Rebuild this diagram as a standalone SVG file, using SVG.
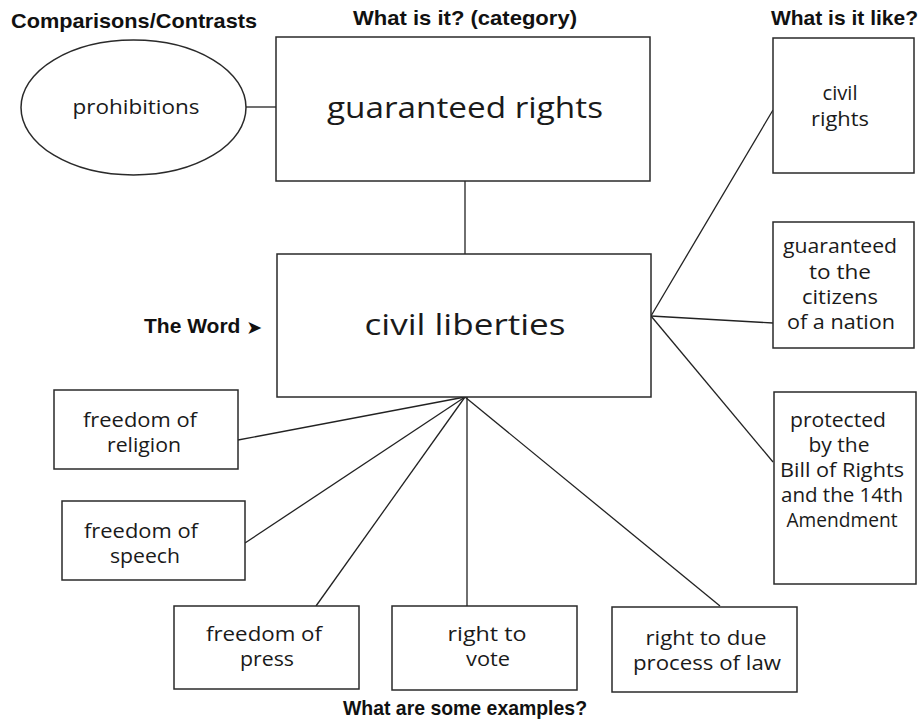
<svg xmlns="http://www.w3.org/2000/svg" width="923" height="723" viewBox="0 0 923 723">
<style>
.box{fill:#fff;stroke:#2a2a2a;stroke-width:1.5}
.hdr{font-family:"Liberation Sans",Arial,sans-serif;font-weight:bold;font-size:21px;fill:#111}
.lbl{font-family:"Open Sans","DejaVu Sans",sans-serif;font-size:20px;fill:#1a1a1a;text-anchor:middle}
.big{font-size:30px}
.conn{stroke:#222;stroke-width:1.3;fill:none}
</style>
<rect width="923" height="723" fill="#fff"/>
<g id="headers">
<text class="hdr" x="134" y="28" text-anchor="middle" textLength="246" lengthAdjust="spacingAndGlyphs">Comparisons/Contrasts</text>
<text class="hdr" x="465" y="25" text-anchor="middle" textLength="224" lengthAdjust="spacingAndGlyphs">What is it? (category)</text>
<text class="hdr" x="918" y="25" text-anchor="end">What is it like?</text>
<text class="hdr" x="465" y="715" text-anchor="middle" textLength="244" lengthAdjust="spacingAndGlyphs">What are some examples?</text>
<text class="hdr" x="144" y="333">The Word <tspan font-family="DejaVu Sans,sans-serif" font-size="19" font-weight="normal" dy="1">➤</tspan></text>
</g>
<g id="connectors">
<path class="conn" d="M246,107 H276"/>
<path class="conn" d="M465,181 V254"/>
<path class="conn" d="M651,316 L773,110"/>
<path class="conn" d="M651,316 L773,323"/>
<path class="conn" d="M651,316 L773,462"/>
<path class="conn" d="M465,397 L238,440"/>
<path class="conn" d="M465,397 L245,543"/>
<path class="conn" d="M465,397 L316,606"/>
<path class="conn" d="M467,397 V606"/>
<path class="conn" d="M465,397 L720,606"/>
</g>
<g id="n-prohibitions">
<ellipse class="box" cx="133.5" cy="107.5" rx="112.5" ry="67.5"/>
<text class="lbl" x="136" y="114" textLength="127" lengthAdjust="spacingAndGlyphs">prohibitions</text>
</g>
<g id="n-guaranteed-rights">
<rect class="box" x="276" y="37" width="374" height="144"/>
<text class="lbl big" x="465" y="118" textLength="276" lengthAdjust="spacingAndGlyphs">guaranteed rights</text>
</g>
<g id="n-civil-liberties">
<rect class="box" x="277" y="254" width="374" height="143"/>
<text class="lbl big" x="465" y="335" textLength="201" lengthAdjust="spacingAndGlyphs">civil liberties</text>
</g>
<g id="n-civil-rights">
<rect class="box" x="773" y="38" width="141" height="135"/>
<text class="lbl" x="840" y="100" textLength="35" lengthAdjust="spacingAndGlyphs">civil</text>
<text class="lbl" x="840" y="126" textLength="58" lengthAdjust="spacingAndGlyphs">rights</text>
</g>
<g id="n-citizens">
<rect class="box" x="773" y="222" width="141" height="126"/>
<text class="lbl" x="840" y="253" textLength="114" lengthAdjust="spacingAndGlyphs">guaranteed</text>
<text class="lbl" x="840" y="279" textLength="62" lengthAdjust="spacingAndGlyphs">to the</text>
<text class="lbl" x="840" y="304" textLength="76" lengthAdjust="spacingAndGlyphs">citizens</text>
<text class="lbl" x="841" y="329" textLength="108" lengthAdjust="spacingAndGlyphs">of a nation</text>
</g>
<g id="n-protected">
<rect class="box" x="774" y="392" width="142" height="192"/>
<text class="lbl" x="838" y="427" textLength="96" lengthAdjust="spacingAndGlyphs">protected</text>
<text class="lbl" x="839" y="452" textLength="61" lengthAdjust="spacingAndGlyphs">by the</text>
<text class="lbl" x="842" y="477" textLength="124" lengthAdjust="spacingAndGlyphs">Bill of Rights</text>
<text class="lbl" x="842" y="502" textLength="122" lengthAdjust="spacingAndGlyphs">and the 14th</text>
<text class="lbl" x="842" y="527" textLength="111" lengthAdjust="spacingAndGlyphs">Amendment</text>
</g>
<g id="n-religion">
<rect class="box" x="54" y="390" width="184" height="79"/>
<text class="lbl" x="140" y="427" textLength="114" lengthAdjust="spacingAndGlyphs">freedom of</text>
<text class="lbl" x="144" y="452" textLength="74" lengthAdjust="spacingAndGlyphs">religion</text>
</g>
<g id="n-speech">
<rect class="box" x="62" y="501" width="183" height="79"/>
<text class="lbl" x="141" y="538" textLength="114" lengthAdjust="spacingAndGlyphs">freedom of</text>
<text class="lbl" x="145" y="563" textLength="70" lengthAdjust="spacingAndGlyphs">speech</text>
</g>
<g id="n-press">
<rect class="box" x="174" y="606" width="185" height="83"/>
<text class="lbl" x="264" y="641" textLength="116" lengthAdjust="spacingAndGlyphs">freedom of</text>
<text class="lbl" x="267" y="666" textLength="54" lengthAdjust="spacingAndGlyphs">press</text>
</g>
<g id="n-vote">
<rect class="box" x="392" y="606" width="185" height="84"/>
<text class="lbl" x="487" y="641" textLength="79" lengthAdjust="spacingAndGlyphs">right to</text>
<text class="lbl" x="488" y="666" textLength="44" lengthAdjust="spacingAndGlyphs">vote</text>
</g>
<g id="n-due">
<rect class="box" x="612" y="607" width="185" height="85"/>
<text class="lbl" x="706" y="645" textLength="121" lengthAdjust="spacingAndGlyphs">right to due</text>
<text class="lbl" x="707" y="670" textLength="148" lengthAdjust="spacingAndGlyphs">process of law</text>
</g>
</svg>
